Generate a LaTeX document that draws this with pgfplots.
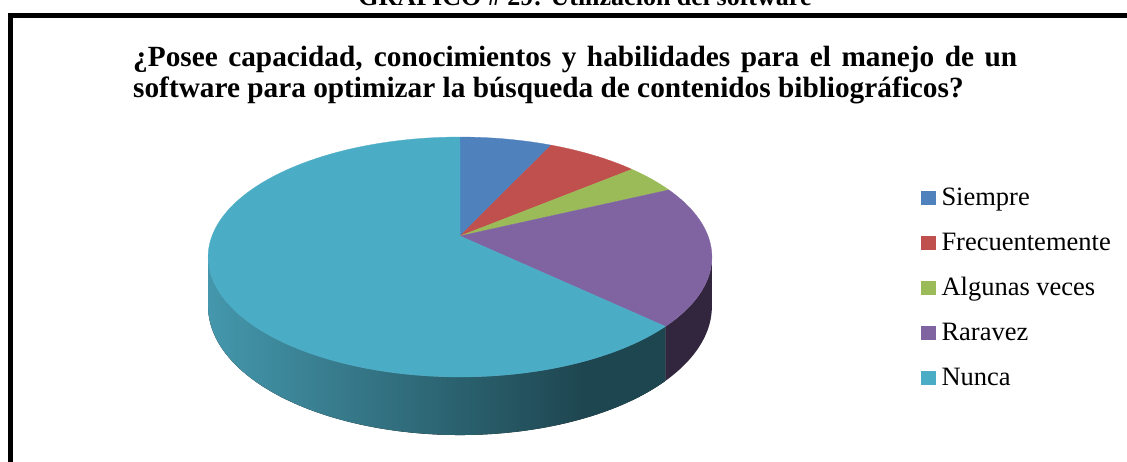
\documentclass[border=0pt]{standalone}
\usepackage{fontspec}
\setmainfont{Liberation Serif}
\usepackage{pgfplots}
\pgfplotsset{compat=1.18}
\usepackage{pgfplotstable}
\usepgfplotslibrary{fillbetween}

\definecolor{cSiempre}{HTML}{4F81BD}
\definecolor{cFrec}{HTML}{C0504D}
\definecolor{cAlg}{HTML}{9BBB59}
\definecolor{cRara}{HTML}{8064A2}
\definecolor{cNunca}{HTML}{4BACC6}
\definecolor{sideRara}{HTML}{32263E}
\definecolor{sideNa}{HTML}{4497AC}
\definecolor{sideNb}{HTML}{1E4650}

\pgfdeclarehorizontalshading{nuncaside}{100bp}{color(0bp)=(sideNa); color(25bp)=(sideNa); color(66bp)=(sideNb); color(100bp)=(sideNb)}

% percentages of the answers
\pgfplotstableread{
cat pct
Siempre 7
Frecuentemente 7
{Algunas veces} 4
Raravez 19
Nunca 63
}\piedata

\pgfplotstablegetelem{0}{pct}\of\piedata \edef\pA{\pgfplotsretval}
\pgfplotstablegetelem{1}{pct}\of\piedata \edef\pB{\pgfplotsretval}
\pgfplotstablegetelem{2}{pct}\of\piedata \edef\pC{\pgfplotsretval}
\pgfplotstablegetelem{3}{pct}\of\piedata \edef\pD{\pgfplotsretval}
\pgfplotstablegetelem{4}{pct}\of\piedata \edef\pE{\pgfplotsretval}
\pgfmathsetmacro\tA{3.6*\pA}
\pgfmathsetmacro\tB{\tA+3.6*\pB}
\pgfmathsetmacro\tC{\tB+3.6*\pC}
\pgfmathsetmacro\tD{\tC+3.6*\pD}
\pgfmathsetmacro\tE{\tD+3.6*\pE}

\begin{document}
\begin{tikzpicture}
\begin{axis}[
  x=1pt, y=1pt, y dir=reverse,
  xmin=0, xmax=1127, ymin=0, ymax=461,
  hide axis, clip=false,
  anchor=north west, at={(0,0)},
  declare function={
    W(\t)=1+0.175*cos(\t);
    PX(\t)=460+248*sin(\t)/W(\t);
    PY(\t)=236-116.3*cos(\t)/W(\t);
    PB(\t)=PY(\t)+47.9/W(\t);
  },
  legend cell align=left,
  legend image code/.code={\fill[#1] (0pt,-6pt) rectangle (14pt,7pt);},
  legend style={
    at={(axis cs:921,186)}, anchor=north west,
    draw=none, fill=none, inner sep=0pt,
    font=\fontsize{26.5pt}{30pt}\selectfont,
    row sep=21pt,
    nodes={inner sep=0pt, text height=19pt, text depth=5pt},
    /tikz/every odd column/.append style={column sep=6pt},
  },
]
% sides
\addplot[draw=none, name path=rT, domain=100.08:\tD, samples=40, variable=\t, forget plot] ({PX(\t)},{PY(\t)});
\addplot[draw=none, name path=rB, domain=100.08:\tD, samples=40, variable=\t, forget plot] ({PX(\t)},{PB(\t)});
\addplot[fill=sideRara, draw=none, forget plot] fill between[of=rT and rB];
\addplot[draw=none, name path=nT, domain=\tD:259.92, samples=100, variable=\t, forget plot] ({PX(\t)},{PY(\t)});
\addplot[draw=none, name path=nB, domain=\tD:259.92, samples=100, variable=\t, forget plot] ({PX(\t)},{PB(\t)});
\addplot[shade, shading=nuncaside, draw=none, forget plot] fill between[of=nT and nB];
% top slices
\addplot[fill=cSiempre, draw=cSiempre, line width=0.3pt, domain=0:\tA, samples=30, variable=\t] ({PX(\t)},{PY(\t)}) -- (axis cs:460,236) -- cycle;
\addlegendentry{Siempre}
\addplot[fill=cFrec, draw=cFrec, line width=0.3pt, domain=\tA:\tB, samples=30, variable=\t] ({PX(\t)},{PY(\t)}) -- (axis cs:460,236) -- cycle;
\addlegendentry{Frecuentemente}
\addplot[fill=cAlg, draw=cAlg, line width=0.3pt, domain=\tB:\tC, samples=20, variable=\t] ({PX(\t)},{PY(\t)}) -- (axis cs:460,236) -- cycle;
\addlegendentry{Algunas veces}
\addplot[fill=cRara, draw=cRara, line width=0.3pt, domain=\tC:\tD, samples=50, variable=\t] ({PX(\t)},{PY(\t)}) -- (axis cs:460,236) -- cycle;
\addlegendentry{Raravez}
\addplot[fill=cNunca, draw=cNunca, line width=0.3pt, domain=\tD:\tE, samples=150, variable=\t] ({PX(\t)},{PY(\t)}) -- (axis cs:460,236) -- cycle;
\addlegendentry{Nunca}

% frame
\draw[line width=5.5pt, line join=miter] (axis cs:10.7,600) -- (axis cs:10.7,15.5) -- (axis cs:1300,15.5);
% titles
\node[anchor=base, inner sep=0pt] at (axis cs:585,5.5) {\fontsize{26pt}{28pt}\selectfont\bfseries GRÁFICO \# 29: Utilización del software};
\node[anchor=base west, inner sep=0pt] at (axis cs:133,66.5) {\fontsize{29.3pt}{31pt}\selectfont\bfseries \makebox[884pt][s]{¿Posee capacidad, conocimientos y habilidades para el manejo de un}};
\node[anchor=base west, inner sep=0pt] at (axis cs:133,97.5) {\fontsize{29.3pt}{31pt}\selectfont\bfseries software para optimizar la búsqueda de contenidos bibliográficos?};
\end{axis}
\pgfresetboundingbox
\useasboundingbox (0,0) rectangle (1127pt,-461pt);
\end{tikzpicture}
\end{document}
